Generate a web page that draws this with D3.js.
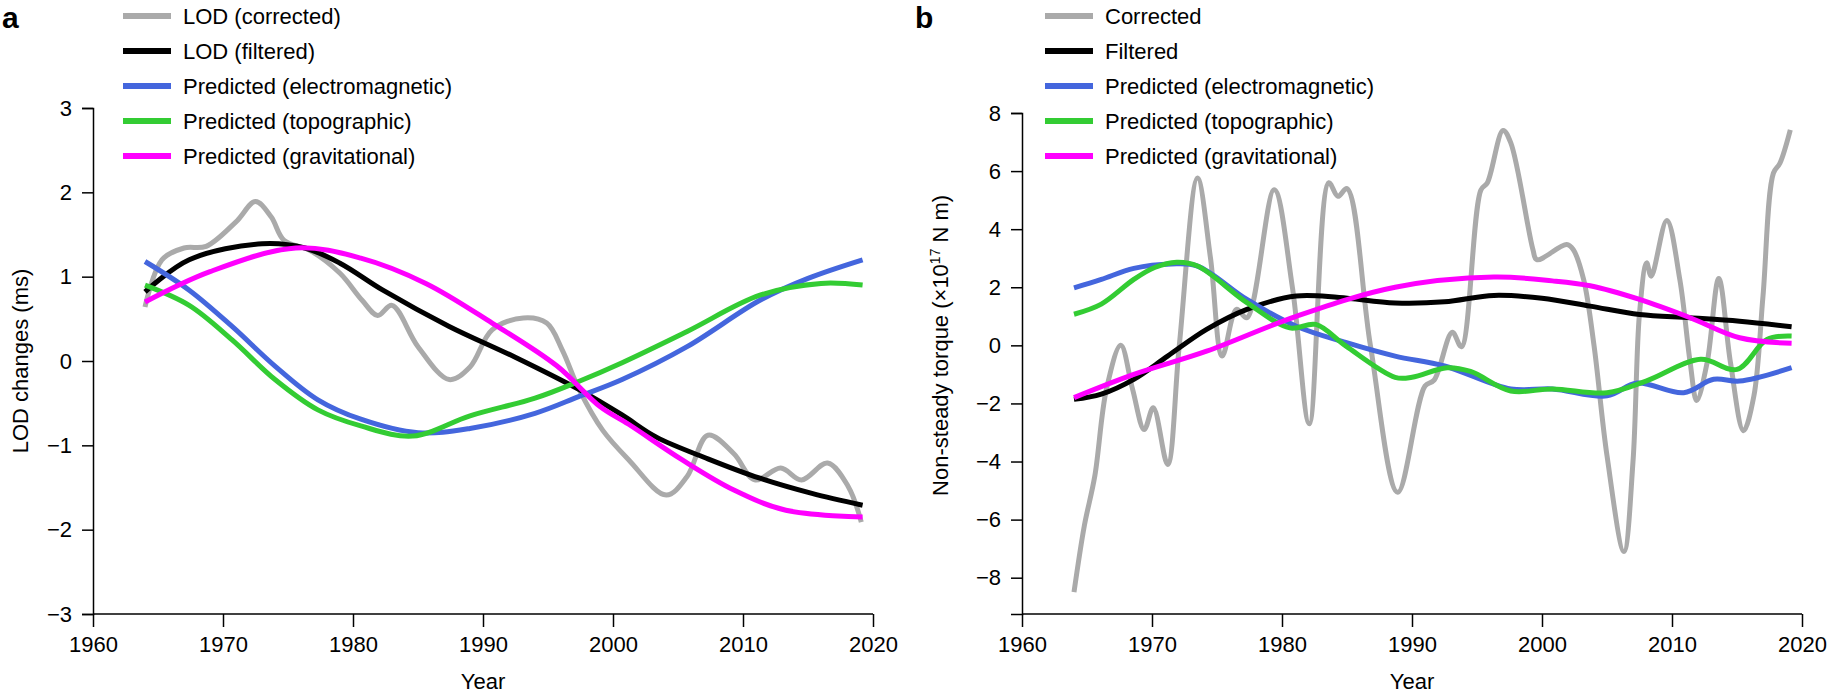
<!DOCTYPE html>
<html>
<head>
<meta charset="utf-8">
<script src="https://cdn.jsdelivr.net/npm/d3@7"></script>
<style>
  body { margin: 0; background: #fff; }
  svg text { font-family: "Liberation Sans", Arial, sans-serif; fill: #000; }
</style>
</head>
<body>
<div id="main"></div>
<script>
// ---- panel a: LOD changes (ms) ----
const aCorrected = [[1964,0.64],[1965.3,1.2],[1967,1.34],[1968.7,1.36],[1971,1.65],[1972.5,1.89],[1973.7,1.71],
  [1974.7,1.43],[1976.7,1.31],[1979,1.04],[1980.7,0.72],[1981.9,0.54],[1983,0.66],[1985,0.17],[1987.4,-0.22],
  [1989,-0.07],[1990.7,0.37],[1993.1,0.51],[1994.9,0.45],[1996.1,0.13],[1997.4,-0.34],[1999.2,-0.82],
  [2001.2,-1.17],[2004.1,-1.59],[2005.7,-1.37],[2007.3,-0.88],[2009.3,-1.1],[2010.9,-1.41],[2012.9,-1.27],
  [2014.5,-1.41],[2016.5,-1.21],[2018.1,-1.49],[2019.1,-1.91]];
const aFiltered = [[1964,0.82],[1967.4,1.2],[1973,1.39],[1976.3,1.34],[1979,1.16],[1982.3,0.84],[1987.4,0.41],
  [1992.4,0.05],[1997.4,-0.34],[2000.7,-0.64],[2003.3,-0.9],[2007.3,-1.16],[2011.3,-1.39],[2015.3,-1.57],[2019.2,-1.71]];
const aEM = [[1964,1.18],[1967.4,0.84],[1970.7,0.41],[1974,-0.06],[1977.3,-0.46],[1980.6,-0.69],[1985,-0.85],
  [1989,-0.8],[1994,-0.62],[1997.4,-0.42],[2000.7,-0.22],[2005.7,0.17],[2011.3,0.72],[2015,0.98],[2019.2,1.2]];
const aTopo = [[1964,0.9],[1967.4,0.66],[1970.7,0.25],[1974,-0.22],[1977.3,-0.58],[1980.6,-0.77],[1984.6,-0.89],
  [1989,-0.65],[1994,-0.44],[1997.4,-0.24],[2000.7,-0.02],[2005.7,0.35],[2011.3,0.78],[2016,0.92],[2019.2,0.9]];
const aGrav = [[1964,0.7],[1969,1.06],[1975.6,1.34],[1980.6,1.22],[1985.6,0.92],[1990.7,0.45],[1995.7,-0.06],
  [1999,-0.54],[2001.2,-0.75],[2005.3,-1.17],[2009.3,-1.53],[2013.3,-1.77],[2019.2,-1.85]];

// ---- panel b: non-steady torque (x10^17 N m) ----
const bCorrected = [[1964,-8.5],[1964.8,-6.2],[1965.6,-4.5],[1966.5,-1.5],[1967.6,0],[1968.5,-1.5],[1969.4,-2.9],
  [1970.1,-2.15],[1971.2,-4.1],[1972.1,0],[1973.5,5.76],[1974.5,3],[1975.4,-0.37],[1976.5,1.24],[1977.3,0.95],
  [1979.4,5.36],[1980.8,2],[1982.1,-2.7],[1983.6,5.6],[1984.3,5.13],[1985,5.4],[1986.8,0],[1988.9,-5.06],
  [1991,-1.4],[1991.7,-1.2],[1993.1,0.45],[1993.8,-0.05],[1995.3,5.35],[1995.8,5.6],[1997,7.4],[1997.6,6.97],
  [1999.3,3.3],[1999.6,2.95],[2001.9,3.47],[2002.4,3.3],[2003.2,2.27],[2004,0],[2005,-3.8],[2006.3,-7.1],
  [2007,-4],[2007.5,1.1],[2008.05,2.84],[2008.4,2.38],[2009.6,4.3],[2010.6,2.27],[2011.4,-0.6],[2011.9,-1.9],
  [2012.7,-0.6],[2013.6,2.3],[2014.5,-0.6],[2015.5,-2.94],[2016.3,-1.74],[2017,1.7],[2017.8,5.93],[2018.3,6.27],[2019.1,7.42]];
const bFiltered = [[1964,-1.86],[1966.1,-1.68],[1968.6,-1.17],[1971.2,-0.37],[1974.2,0.55],[1977.3,1.24],
  [1981.1,1.7],[1984.4,1.65],[1988.7,1.46],[1992.5,1.5],[1996.3,1.72],[2000,1.62],[2003.7,1.35],
  [2007.5,1.06],[2011.4,0.95],[2015.2,0.83],[2019.2,0.64]];
const bEM = [[1964,1.98],[1966.1,2.27],[1968.6,2.65],[1971.5,2.8],[1973.5,2.73],[1977.3,1.58],[1981.1,0.66],
  [1984.9,0.1],[1988.7,-0.37],[1992.5,-0.71],[1997.6,-1.5],[2000.8,-1.5],[2005,-1.74],[2007.3,-1.3],
  [2010.9,-1.63],[2013.2,-1.17],[2015.2,-1.23],[2019.2,-0.77]];
const bTopo = [[1964,1.07],[1966.1,1.42],[1968.6,2.27],[1970.2,2.68],[1971.9,2.86],[1973.5,2.73],[1977.3,1.47],
  [1980.6,0.6],[1982.6,0.72],[1984.9,-0.02],[1988.7,-1.1],[1990,-1.1],[1992.7,-0.77],[1994.5,-0.9],
  [1997.6,-1.57],[2000.8,-1.5],[2005,-1.63],[2008.05,-1.22],[2012.2,-0.48],[2015,-0.83],[2017.3,0.2],[2019.2,0.32]];
const bGrav = [[1964,-1.8],[1968.6,-1.0],[1974.2,-0.2],[1981.1,1.0],[1988.7,2.0],[1996.3,2.35],[2000.8,2.22],
  [2003.7,2.05],[2007.5,1.58],[2011.4,0.95],[2015.2,0.26],[2019.2,0.07]];

const xTicks = [1960, 1970, 1980, 1990, 2000, 2010, 2020];
const aYTicks = [-3, -2, -1, 0, 1, 2, 3];
const bYTicks = [-8, -6, -4, -2, 0, 2, 4, 6, 8];
const colors = { grey: "#aaaaaa", black: "#000000", blue: "#4466dd", green: "#33cc33", magenta: "#ff00ff" };

const svg = d3.select("#main").append("svg").attr("width", 1830).attr("height", 696);

function drawPanel(opt) {
  const x = d3.scaleLinear().domain([1960, 2020]).range([opt.left, opt.left + 780]);
  const y = d3.scaleLinear().domain(opt.yDomain).range([614, opt.top]);
  const g = svg.append("g");

  const xAxis = g.append("g").attr("transform", "translate(0,614)")
    .call(d3.axisBottom(x).tickValues(xTicks).tickFormat(d3.format("d")).tickSize(13).tickPadding(9));
  const yAxis = g.append("g").attr("transform", `translate(${opt.left},0)`)
    .call(d3.axisLeft(y).tickValues(opt.yTicks).tickFormat(d3.format("d")).tickSize(11).tickPadding(10));
  [xAxis, yAxis].forEach(a => {
    a.select(".domain").attr("stroke-width", 1.5);
    a.selectAll(".tick line").attr("stroke-width", 1.5);
    a.selectAll("text").style("font-size", "22px");
  });
  xAxis.select(".domain").attr("d", `M${opt.left},0H${opt.left + 780}`);

  const line = d3.line().x(d => x(d[0])).y(d => y(d[1])).curve(d3.curveCatmullRom.alpha(0.5));
  opt.series.forEach(s => {
    g.append("path").datum(s.data).attr("d", line)
      .attr("fill", "none").attr("stroke", s.color).attr("stroke-width", 5)
      .attr("stroke-linejoin", "round").attr("stroke-linecap", "butt");
  });

  // legend
  opt.series.forEach((s, i) => {
    const ly = 16 + i * 35;
    g.append("line").attr("x1", opt.legendX).attr("x2", opt.legendX + 48)
      .attr("y1", ly).attr("y2", ly).attr("stroke", s.color).attr("stroke-width", 6);
    g.append("text").attr("x", opt.legendX + 60).attr("y", ly + 8)
      .style("font-size", "22px").text(s.name);
  });

  g.append("text").attr("x", opt.letterX).attr("y", 28)
    .style("font-size", "30px").style("font-weight", "bold").text(opt.letter);

  g.append("text").attr("x", x(1990)).attr("y", 689).attr("text-anchor", "middle")
    .style("font-size", "22px").text("Year");

  const yl = g.append("text").attr("transform", `translate(${opt.yLabelX},${y(0)}) rotate(-90)`)
    .attr("text-anchor", "middle").style("font-size", "22px");
  opt.yLabel(yl);
}

drawPanel({
  left: 93, top: 108, yDomain: [-3, 3], yTicks: aYTicks, legendX: 123, letter: "a", letterX: 2,
  yLabelX: 28,
  yLabel: t => t.text("LOD changes (ms)"),
  series: [
    { name: "LOD (corrected)", color: colors.grey, data: aCorrected },
    { name: "LOD (filtered)", color: colors.black, data: aFiltered },
    { name: "Predicted (electromagnetic)", color: colors.blue, data: aEM },
    { name: "Predicted (topographic)", color: colors.green, data: aTopo },
    { name: "Predicted (gravitational)", color: colors.magenta, data: aGrav }
  ]
});

drawPanel({
  left: 1022, top: 113, yDomain: [-9.25, 8], yTicks: bYTicks, legendX: 1045, letter: "b", letterX: 915,
  yLabelX: 948,
  yLabel: t => {
    t.append("tspan").text("Non-steady torque (×10");
    t.append("tspan").attr("baseline-shift", "super").style("font-size", "14px").text("17");
    t.append("tspan").text(" N m)");
  },
  series: [
    { name: "Corrected", color: colors.grey, data: bCorrected },
    { name: "Filtered", color: colors.black, data: bFiltered },
    { name: "Predicted (electromagnetic)", color: colors.blue, data: bEM },
    { name: "Predicted (topographic)", color: colors.green, data: bTopo },
    { name: "Predicted (gravitational)", color: colors.magenta, data: bGrav }
  ]
});
</script>
</body>
</html>
